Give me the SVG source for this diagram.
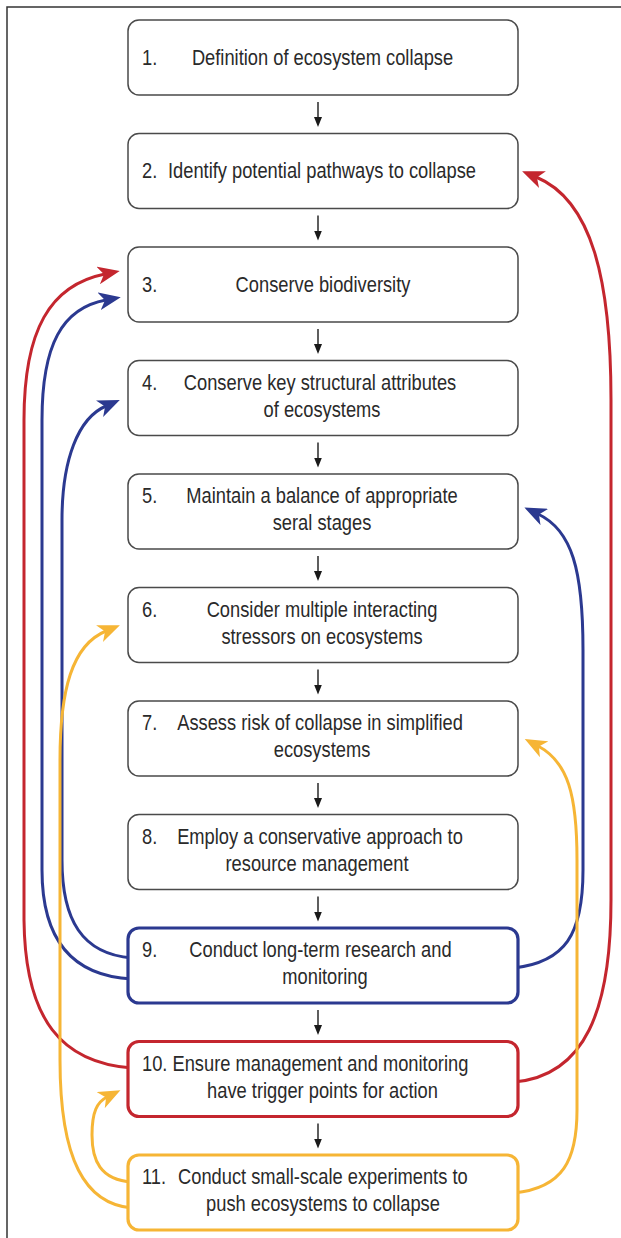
<svg xmlns="http://www.w3.org/2000/svg" width="621" height="1238" viewBox="0 0 621 1238">
<style>
.box{fill:#fff;stroke:#4a4a4a;stroke-width:1.5}
.bb{fill:#fff;stroke:#2b3990;stroke-width:3.2}
.rb{fill:#fff;stroke:#c4262e;stroke-width:3.2}
.yb{fill:#fff;stroke:#f6b535;stroke-width:3.2}
text{font-family:"Liberation Sans",Arial,sans-serif;font-size:22px;fill:#2a2a2a}
.c{text-anchor:middle}
.dn{stroke:#1a1a1a;stroke-width:1.4;fill:none}
.red{stroke:#c4262e;stroke-width:3;fill:none}
.blue{stroke:#2b3990;stroke-width:3;fill:none}
.yel{stroke:#f6b535;stroke-width:3;fill:none}
</style>
<defs>
<marker id="ahr" viewBox="0 0 22 18" refX="7" refY="9" markerWidth="22" markerHeight="18" orient="auto" markerUnits="userSpaceOnUse"><path d="M0,0 L22,9 L0,18 L6,9 Z" fill="#c4262e"/></marker>
<marker id="ahb" viewBox="0 0 22 18" refX="7" refY="9" markerWidth="22" markerHeight="18" orient="auto" markerUnits="userSpaceOnUse"><path d="M0,0 L22,9 L0,18 L6,9 Z" fill="#2b3990"/></marker>
<marker id="ahy" viewBox="0 0 22 18" refX="7" refY="9" markerWidth="22" markerHeight="18" orient="auto" markerUnits="userSpaceOnUse"><path d="M0,0 L22,9 L0,18 L6,9 Z" fill="#f6b535"/></marker>
<marker id="ahk" viewBox="0 0 10 8" refX="1" refY="4" markerWidth="10" markerHeight="8" orient="auto" markerUnits="userSpaceOnUse"><path d="M0,0 L10,4 L0,8 Z" fill="#1a1a1a"/></marker>
</defs>
<rect x="0" y="0" width="621" height="1238" fill="#fff"/>
<rect x="7" y="7" width="700" height="1300" fill="none" stroke="#333" stroke-width="1.5"/>

<g id="connectors">
<path class="dn" marker-end="url(#ahk)" d="M318,102 V118"/>
<path class="dn" marker-end="url(#ahk)" d="M318,215.5 V231.5"/>
<path class="dn" marker-end="url(#ahk)" d="M318,329 V345"/>
<path class="dn" marker-end="url(#ahk)" d="M318,442.5 V458.5"/>
<path class="dn" marker-end="url(#ahk)" d="M318,556 V572"/>
<path class="dn" marker-end="url(#ahk)" d="M318,669.5 V685.5"/>
<path class="dn" marker-end="url(#ahk)" d="M318,783 V799"/>
<path class="dn" marker-end="url(#ahk)" d="M318,896.5 V912.5"/>
<path class="dn" marker-end="url(#ahk)" d="M318,1010 V1026"/>
<path class="dn" marker-end="url(#ahk)" d="M318,1123.5 V1139.5"/>

<path class="red" marker-end="url(#ahr)" d="M132,1068 C62,1063 25,1020 24,920 L24,420 C24,330 50,285 105,274"/>
<path class="blue" marker-end="url(#ahb)" d="M132,979 C72,976 42,940 42,870 L42,420 C42,345 62,308 106,300"/>
<path class="blue" marker-end="url(#ahb)" d="M132,958 C82,954 62,920 62,860 L62,520 C62,460 78,418 106,406"/>
<path class="yel" marker-end="url(#ahy)" d="M132,1208 C85,1204 60,1160 60,1060 L60,760 C60,690 72,645 106,631"/>
<path class="yel" marker-end="url(#ahy)" d="M132,1182 C100,1180 92,1160 92,1135 C92,1112 97,1102 107,1097"/>

<path class="red" marker-end="url(#ahr)" d="M514,1082 C585,1076 611,1010 611,900 L611,400 C611,280 592,200 536,177"/>
<path class="blue" marker-end="url(#ahb)" d="M514,968 C565,962 583,935 583,870 L583,650 C583,570 572,530 538,514"/>
<path class="yel" marker-end="url(#ahy)" d="M514,1193 C563,1188 577,1160 577,1110 L577,860 C577,795 568,762 538,746"/>
</g>

<g id="n1">
<rect class="box" x="128" y="20" width="390" height="75" rx="11"/>
<text transform="translate(142 64.5) scale(0.832 1)">1.</text>
<text class="c" transform="translate(322.5 64.5) scale(0.832 1)">Definition of ecosystem collapse</text>
</g>
<g id="n2">
<rect class="box" x="128" y="133.5" width="390" height="75" rx="11"/>
<text transform="translate(142 178) scale(0.832 1)">2.</text>
<text class="c" transform="translate(322 178) scale(0.832 1)">Identify potential pathways to collapse</text>
</g>
<g id="n3">
<rect class="box" x="128" y="247" width="390" height="75" rx="11"/>
<text transform="translate(142 291.5) scale(0.832 1)">3.</text>
<text class="c" transform="translate(323 291.5) scale(0.832 1)">Conserve biodiversity</text>
</g>
<g id="n4">
<rect class="box" x="128" y="360.5" width="390" height="75" rx="11"/>
<text transform="translate(142 389.5) scale(0.832 1)">4.</text>
<text class="c" transform="translate(320 389.5) scale(0.832 1)">Conserve key structural attributes</text>
<text class="c" transform="translate(322 416.5) scale(0.832 1)">of ecosystems</text>
</g>
<g id="n5">
<rect class="box" x="128" y="474" width="390" height="75" rx="11"/>
<text transform="translate(142 503) scale(0.832 1)">5.</text>
<text class="c" transform="translate(322 503) scale(0.832 1)">Maintain a balance of appropriate</text>
<text class="c" transform="translate(322 530) scale(0.832 1)">seral stages</text>
</g>
<g id="n6">
<rect class="box" x="128" y="587.5" width="390" height="75" rx="11"/>
<text transform="translate(142 616.5) scale(0.832 1)">6.</text>
<text class="c" transform="translate(322 616.5) scale(0.832 1)">Consider multiple interacting</text>
<text class="c" transform="translate(322 643.5) scale(0.832 1)">stressors on ecosystems</text>
</g>
<g id="n7">
<rect class="box" x="128" y="701" width="390" height="75" rx="11"/>
<text transform="translate(142 730) scale(0.832 1)">7.</text>
<text class="c" transform="translate(320 730) scale(0.832 1)">Assess risk of collapse in simplified</text>
<text class="c" transform="translate(322 757) scale(0.832 1)">ecosystems</text>
</g>
<g id="n8">
<rect class="box" x="128" y="814.5" width="390" height="75" rx="11"/>
<text transform="translate(142 843.5) scale(0.832 1)">8.</text>
<text class="c" transform="translate(320 843.5) scale(0.832 1)">Employ a conservative approach to</text>
<text class="c" transform="translate(317 870.5) scale(0.832 1)">resource management</text>
</g>
<g id="n9">
<rect class="bb" x="128" y="928" width="390" height="75" rx="11"/>
<text transform="translate(142 957) scale(0.832 1)">9.</text>
<text class="c" transform="translate(320.5 957) scale(0.832 1)">Conduct long-term research and</text>
<text class="c" transform="translate(325 984) scale(0.832 1)">monitoring</text>
</g>
<g id="n10">
<rect class="rb" x="128" y="1041.5" width="390" height="75" rx="11"/>
<text transform="translate(142 1070.5) scale(0.832 1)">10. Ensure management and monitoring</text>
<text class="c" transform="translate(322.5 1097.5) scale(0.832 1)">have trigger points for action</text>
</g>
<g id="n11">
<rect class="yb" x="128" y="1155" width="390" height="75" rx="11"/>
<text transform="translate(142 1184) scale(0.832 1)">11.</text>
<text transform="translate(178 1184) scale(0.832 1)">Conduct small-scale experiments to</text>
<text class="c" transform="translate(323 1211) scale(0.832 1)">push ecosystems to collapse</text>
</g>
</svg>
